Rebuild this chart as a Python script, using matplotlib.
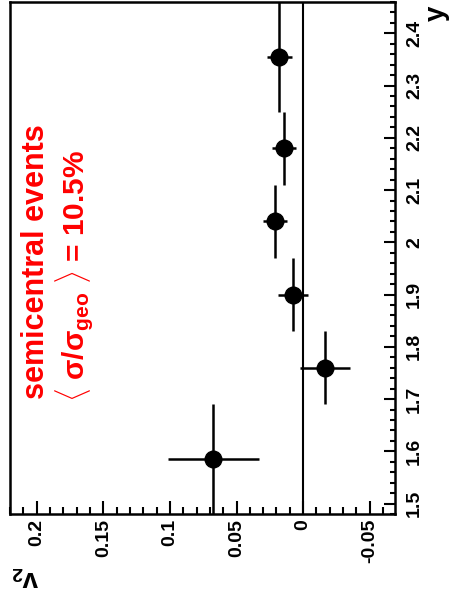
import matplotlib
matplotlib.use("Agg")
import matplotlib.pyplot as plt
from matplotlib.ticker import MultipleLocator, FixedLocator

plt.rcParams['font.family'] = ['Liberation Sans', 'DejaVu Sans']
plt.rcParams['font.weight'] = 'bold'
plt.rcParams['mathtext.fontset'] = 'custom'
plt.rcParams['mathtext.rm'] = 'Liberation Sans:bold'
plt.rcParams['mathtext.it'] = 'Liberation Sans:bold'
plt.rcParams['mathtext.bf'] = 'Liberation Sans:bold'

# rapidity bins (centre, half width) and elliptic flow v2 with errors
rapidity = [1.585, 1.76, 1.90, 2.04, 2.18, 2.355]
rapidity_err = [0.105, 0.07, 0.07, 0.07, 0.07, 0.105]
v2 = [0.0675, -0.0165, 0.0075, 0.021, 0.0143, 0.018]
v2_err = [0.034, 0.019, 0.011, 0.009, 0.0087, 0.0094]

v2_ticks = [-0.05, 0.0, 0.05, 0.1, 0.15, 0.2]
v2_ticklabels = ['-0.05', '0', '0.05', '0.1', '0.15', '0.2']
rap_ticks = [1.5, 1.6, 1.7, 1.8, 1.9, 2.0, 2.1, 2.2, 2.3, 2.4]
rap_ticklabels = ['1.5', '1.6', '1.7', '1.8', '1.9', '2', '2.1', '2.2', '2.3', '2.4']

W, H = 449, 605
fig = plt.figure(figsize=(W / 100, H / 100), dpi=100)
ax = fig.add_axes([9.5 / W, 1 - 514 / H, (395 - 9.5) / W, (514 - 2) / H])

# the plot is drawn turned by 90 degrees: v2 runs right-to-left, rapidity upward
ax.set_xlim(0.2205, -0.069)
ax.set_ylim(1.48, 2.46)

ax.axvline(0.0, color='black', lw=1.5, zorder=1)
ax.errorbar(v2, rapidity, xerr=v2_err, yerr=rapidity_err, fmt='o',
            color='black', ms=12, elinewidth=1.8, capsize=0, zorder=3)

for s in ax.spines.values():
    s.set_linewidth(1.8)

ax.xaxis.set_major_locator(FixedLocator(v2_ticks))
ax.set_xticklabels(v2_ticklabels, rotation=90, fontsize=14, fontweight='bold')
ax.xaxis.set_minor_locator(MultipleLocator(0.01))
ax.tick_params(axis='x', which='major', direction='in', length=9.4, width=1.5,
               pad=3.5, bottom=True, top=False)
ax.tick_params(axis='x', which='minor', direction='in', length=4.7, width=1.5,
               bottom=True, top=False)

ax.yaxis.tick_right()
ax.yaxis.set_major_locator(FixedLocator(rap_ticks))
ax.set_yticklabels(rap_ticklabels, rotation=90, fontsize=14, fontweight='bold',
                   va='center')
ax.yaxis.set_minor_locator(MultipleLocator(0.02))
ax.tick_params(axis='y', which='major', direction='in', length=7.9, width=1.5,
               pad=8, right=True, left=False)
ax.tick_params(axis='y', which='minor', direction='in', length=3.6, width=1.5,
               right=True, left=False)

# axis titles
fig.text(437 / W, 1 - 13 / H, 'y', rotation=90, fontsize=20, fontweight='bold',
         ha='center', va='center')
fig.text(25 / W, 1 - 577 / H, r'v$_{2}$', rotation=180, fontsize=20,
         fontweight='bold', ha='center', va='center')

# event class annotation
ax.text(0.2005, 1.700, 'semicentral events', rotation=90, color='#ff0000',
        fontsize=22, fontweight='bold', ha='center', va='bottom')
ax.text(0.1715, 1.694, r'$\langle$ σ/σ$_{geo}$ $\rangle$ = 10.5%', rotation=90,
        color='#ff0000', fontsize=21.5, fontweight='bold', ha='center', va='bottom')

fig.savefig('out.png', dpi=100)
